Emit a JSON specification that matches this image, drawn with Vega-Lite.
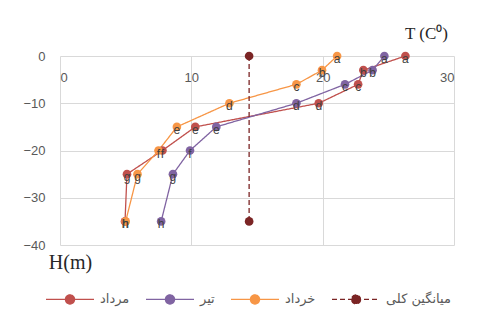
{
  "$schema": "https://vega.github.io/schema/vega-lite/v6.json",
  "width": 394,
  "height": 189,
  "autosize": {"type": "none"},
  "padding": {"left": 60, "top": 56, "right": 24, "bottom": 64},
  "background": "white",
  "config": {"view": {"stroke": null}},
  "data": {"values": [
    {"series": "مرداد", "label": "a", "T": 26.3, "H": 0},
    {"series": "مرداد", "label": "b", "T": 23.1, "H": -3},
    {"series": "مرداد", "label": "c", "T": 22.7, "H": -6},
    {"series": "مرداد", "label": "d", "T": 19.7, "H": -10},
    {"series": "مرداد", "label": "e", "T": 10.3, "H": -15},
    {"series": "مرداد", "label": "f", "T": 7.8, "H": -20},
    {"series": "مرداد", "label": "g", "T": 5.1, "H": -25},
    {"series": "مرداد", "label": "h", "T": 4.95, "H": -35},
    {"series": "تیر", "label": "a", "T": 24.7, "H": 0},
    {"series": "تیر", "label": "b", "T": 23.8, "H": -3},
    {"series": "تیر", "label": "c", "T": 21.7, "H": -6},
    {"series": "تیر", "label": "d", "T": 18.0, "H": -10},
    {"series": "تیر", "label": "e", "T": 11.9, "H": -15},
    {"series": "تیر", "label": "f", "T": 9.9, "H": -20},
    {"series": "تیر", "label": "g", "T": 8.6, "H": -25},
    {"series": "تیر", "label": "h", "T": 7.7, "H": -35},
    {"series": "خرداد", "label": "a", "T": 21.1, "H": 0},
    {"series": "خرداد", "label": "b", "T": 19.95, "H": -3},
    {"series": "خرداد", "label": "c", "T": 18.0, "H": -6},
    {"series": "خرداد", "label": "d", "T": 12.9, "H": -10},
    {"series": "خرداد", "label": "e", "T": 8.9, "H": -15},
    {"series": "خرداد", "label": "f", "T": 7.5, "H": -20},
    {"series": "خرداد", "label": "g", "T": 5.9, "H": -25},
    {"series": "خرداد", "label": "h", "T": 5.0, "H": -35},
    {"series": "میانگین کلی", "label": "", "T": 14.4, "H": 0},
    {"series": "میانگین کلی", "label": "", "T": 14.4, "H": -35}
  ]},
  "layer": [
    {
      "mark": {"type": "line", "point": {"filled": true, "size": 75, "opacity": 1}},
      "encoding": {
        "x": {"field": "T", "type": "quantitative",
          "scale": {"domain": [0, 30], "nice": false},
          "axis": {"orient": "top", "values": [0, 10, 20, 30], "grid": true, "gridColor": "#d9d9d9",
            "domain": false, "ticks": false, "tickSize": 0, "labelPadding": -21, "labelBaseline": "middle",
            "labelFont": "Liberation Sans", "labelFontSize": 13, "labelColor": "#595959",
            "title": "T (C⁰)", "titleFont": "Liberation Serif", "titleFontSize": 17, "titleFontWeight": "normal",
            "titleColor": "#262626", "titleX": 366, "titleY": -23, "titleAlign": "center", "titleBaseline": "middle"}},
        "y": {"field": "H", "type": "quantitative",
          "scale": {"domain": [-40, 0], "nice": false},
          "axis": {"values": [0, -5, -10, -15, -20, -25, -30, -35, -40], "grid": true, "gridColor": "#d9d9d9",
            "domain": false, "ticks": false, "tickSize": 0, "labelPadding": 15,
            "labelFont": "Liberation Sans", "labelFontSize": 13, "labelColor": "#595959",
            "title": "H(m)", "titleFont": "Liberation Serif", "titleFontSize": 20, "titleFontWeight": "normal",
            "titleColor": "#262626", "titleAngle": 0, "titleX": 10, "titleY": 206, "titleAlign": "center", "titleBaseline": "middle"}},
        "color": {"field": "series", "type": "nominal",
          "scale": {"domain": ["مرداد", "تیر", "خرداد", "میانگین کلی"], "range": ["#C0504D", "#8064A2", "#F79646", "#7B2525"]},
          "legend": {"orient": "none", "legendX": -15, "legendY": 218, "direction": "horizontal", "title": null,
            "columnPadding": 13, "symbolType": "M-1,0L1,0M0.19,0A0.19,0.19,0,1,1,-0.19,0A0.19,0.19,0,1,1,0.19,0Z",
            "symbolSize": 2300, "symbolStrokeWidth": 1.3, "labelFont": "DejaVu Sans", "labelFontSize": 13,
            "labelColor": "#595959", "labelOffset": 5,
            "encode": {"symbols": {"update": {
              "fill": {"scale": "color", "field": "value"},
              "strokeDash": [{"test": "datum.value === 'میانگین کلی'", "value": [5, 3]}, {"value": [1, 0]}],
              "strokeWidth": [{"test": "datum.value === 'میانگین کلی'", "value": 2}, {"value": 1.3}]}}}}},
        "strokeDash": {"field": "series", "type": "nominal",
          "scale": {"domain": ["مرداد", "تیر", "خرداد", "میانگین کلی"], "range": [[1, 0], [1, 0], [1, 0], [5, 3]]},
          "legend": null},
        "strokeWidth": {"field": "series", "type": "nominal",
          "scale": {"domain": ["مرداد", "تیر", "خرداد", "میانگین کلی"], "range": [1.3, 1.3, 1.3, 2]},
          "legend": null},
        "order": {"field": "H", "sort": "descending"}
      }
    },
    {
      "mark": {"type": "text", "dy": 3, "font": "Liberation Sans", "fontSize": 12, "color": "#404040", "baseline": "middle"},
      "encoding": {
        "x": {"field": "T", "type": "quantitative"},
        "y": {"field": "H", "type": "quantitative"},
        "text": {"field": "label"}
      }
    }
  ]
}
